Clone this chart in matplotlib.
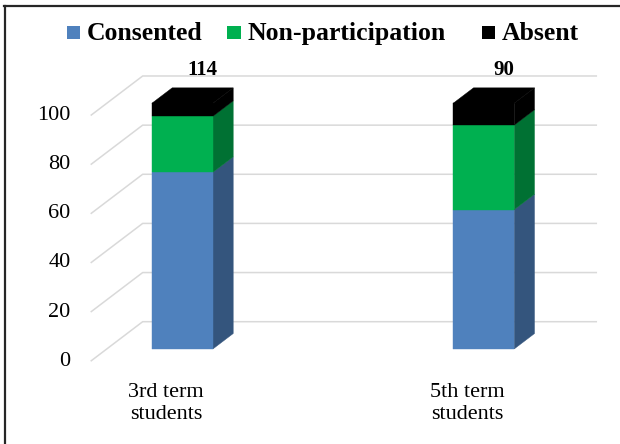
import matplotlib
matplotlib.use("Agg")
import matplotlib.pyplot as plt
from matplotlib.patches import Polygon, Rectangle
from matplotlib.lines import Line2D

# share of students (%) per group, stacked bottom to top
categories = ["3rd term\nstudents", "5th term\nstudents"]
series_names = ["Consented", "Non-participation", "Absent"]
consented = [71.9, 56.7]
non_participation = [22.8, 34.4]
absent = [5.3, 8.9]
n_students = [114, 90]
y_ticks = [0, 20, 40, 60, 80, 100]

front_colors = ["#4F81BD", "#00B050", "#000000"]
side_colors = ["#34557D", "#007133", "#000000"]
grid_color = "#D9D9D9"
serif = "Liberation Serif"

W, H = 620, 444

# fake 3D: a point at depth d (0 = back wall, 1 = front edge) is shifted
# left by d*DEPTH_X and down by d*DEPTH_Y
DEPTH_X = 0.1726
DEPTH_Y = 16.08
BAR_FRONT = 0.69
BAR_BACK = 0.30
BAR_W = 0.2025
WALL_LEFT, WALL_RIGHT = -0.251, 1.257


def shift(x, y, d):
    return x - d * DEPTH_X, y - d * DEPTH_Y


fig = plt.figure(figsize=(W / 100, H / 100), dpi=100)
ax = fig.add_axes([0, 0, 1, 1])
ax.set_xlim(-0.7245, 1.3332)
ax.set_ylim(-49.78, 130.93)
ax.axis("off")

# floor / wall gridlines with their tick labels on the front edge
for t in y_ticks:
    fx, fy = shift(WALL_LEFT, t, 1)
    ax.plot([fx, WALL_LEFT, WALL_RIGHT], [fy, t, t], color=grid_color, lw=1.1,
            zorder=0, solid_capstyle="butt")
    ax.text(fx - 0.0664, fy, str(t), ha="right", va="center", fontsize=16,
            family=serif, color="#000000")

stacks = [consented, non_participation, absent]
for i in range(len(categories)):
    bottom = 0
    for k, vals in enumerate(stacks):
        v = vals[i]
        top = bottom + v
        xl_f, b_f = shift(i - BAR_W / 2, bottom, BAR_FRONT)
        xr_f, t_f = shift(i + BAR_W / 2, top, BAR_FRONT)
        xr_b, b_b = shift(i + BAR_W / 2, bottom, BAR_BACK)
        _, t_b = shift(i + BAR_W / 2, top, BAR_BACK)
        # right side face
        ax.add_patch(Polygon([(xr_f, b_f), (xr_b, b_b), (xr_b, t_b), (xr_f, t_f)],
                             closed=True, facecolor=side_colors[k],
                             edgecolor=side_colors[k], lw=0.3, zorder=2))
        # front face
        ax.bar(i - BAR_FRONT * DEPTH_X, v, bottom=b_f, width=BAR_W,
               color=front_colors[k], edgecolor=front_colors[k], lw=0.3, zorder=3)
        bottom = top
    # lid of the stack
    xl_f, T_f = shift(i - BAR_W / 2, bottom, BAR_FRONT)
    xr_f, _ = shift(i + BAR_W / 2, bottom, BAR_FRONT)
    xl_b, T_b = shift(i - BAR_W / 2, bottom, BAR_BACK)
    xr_b, _ = shift(i + BAR_W / 2, bottom, BAR_BACK)
    ax.add_patch(Polygon([(xl_f, T_f), (xr_f, T_f), (xr_b, T_b), (xl_b, T_b)],
                         closed=True, facecolor=front_colors[-1],
                         edgecolor=front_colors[-1], lw=0.3, zorder=4))
    # group size above the bar
    lx, ly = shift(i, bottom, BAR_BACK)
    ax.text(lx, ly + 7.2, str(n_students[i]), ha="center", va="center",
            fontsize=15, fontweight="bold", family=serif)
    # category label under the front edge
    cx, _ = shift(i, 0, 1)
    ax.text(cx, -33.3, categories[i], ha="center", va="center", fontsize=16,
            family=serif, linespacing=1.2)

# legend row
legend_x = [87, 247.3, 501.7]
for name, col, px in zip(series_names, front_colors, legend_x):
    fig.patches.append(Rectangle(((px - 20) / W, 1 - 39.3 / H), 13.4 / W, 13.4 / H,
                                 transform=fig.transFigure, facecolor=col,
                                 edgecolor="none"))
    fig.text(px / W, 1 - 40 / H, name, ha="left", va="baseline", fontsize=18.5,
             fontweight="bold", family=serif)

# chart area border (left and top edges)
fig.add_artist(Line2D([4 / W, 1], [1 - 6 / H, 1 - 6 / H], transform=fig.transFigure,
                      color="#262626", lw=1.6))
fig.add_artist(Line2D([5 / W, 5 / W], [0, 1 - 6 / H], transform=fig.transFigure,
                      color="#262626", lw=1.6))

fig.savefig("out.png", dpi=100)
